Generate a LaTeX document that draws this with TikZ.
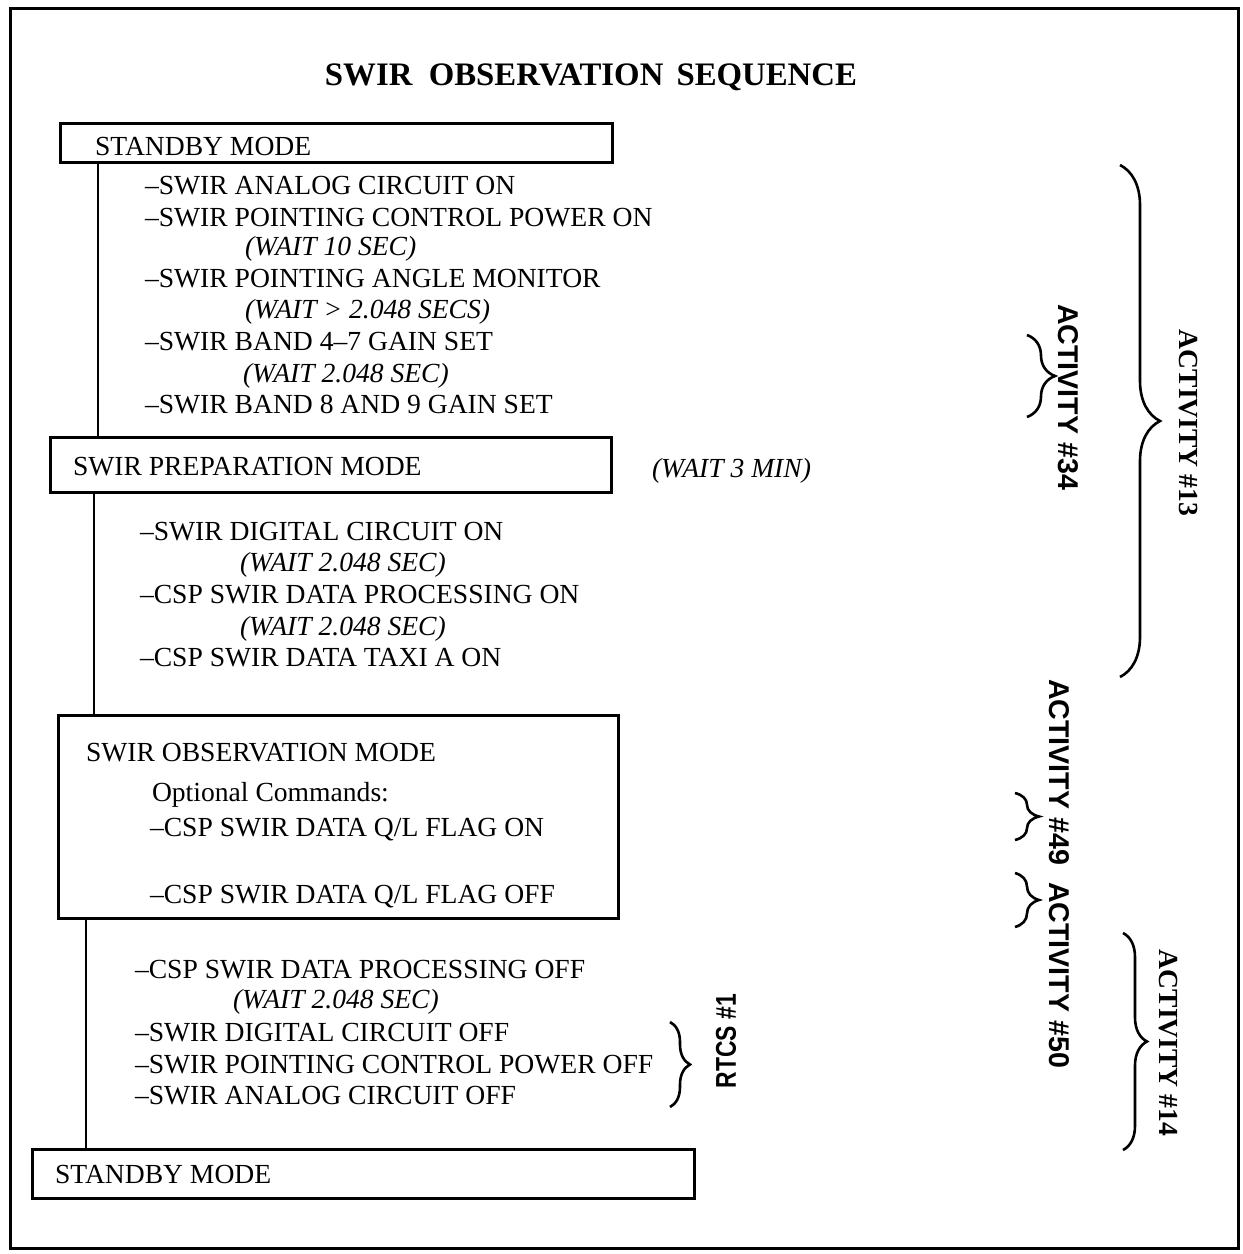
\documentclass[tikz,border=0pt]{standalone}
\usepackage{fontspec}
\usepackage{graphicx}
\setmainfont{Liberation Serif}
\newfontfamily\labelsans{Liberation Sans}
\usetikzlibrary{decorations.pathreplacing}

\begin{document}
\begin{tikzpicture}[x=0.5pt,y=-0.5pt,
  every node/.style={inner sep=0pt,outer sep=0pt},
  modebox/.style={draw,line width=1.5pt,rectangle},
  cmd/.style={anchor=base west,font=\fontsize{13.8}{16}\selectfont},
  waittxt/.style={anchor=base west,font=\fontsize{13.8}{16}\selectfont\itshape},
  link/.style={line width=1.3pt},
  curly/.style={line width=1.3pt,decorate,decoration={brace,amplitude=#1}},
  actsans/.style={font=\labelsans\fontsize{14.3}{16}\selectfont\bfseries},
  actserif/.style={font=\fontsize{13.8}{16}\selectfont\bfseries}]

\useasboundingbox (0,0) rectangle (1243,1254);
% outer frame
\draw[line width=1.5pt] (10,8) rectangle (1238,1248);

% title
\node[anchor=base,font=\fontsize{16.4}{18}\selectfont\bfseries] (title) at (591,85)
  {SWIR\hspace{0.5em}OBSERVATION\hspace{0.4em}SEQUENCE};

% mode boxes
\node[modebox,minimum width=276pt,minimum height=19.5pt] (b1) at (336,142.5) {};
\node[modebox,minimum width=280.5pt,minimum height=27.5pt] (b2) at (330.5,464.5) {};
\node[modebox,minimum width=280pt,minimum height=101.5pt] (b3) at (338,816.5) {};
\node[modebox,minimum width=331pt,minimum height=24.5pt] (b4) at (363,1173.5) {};

% vertical connectors between the modes
\coordinate (c1) at (98,0);
\coordinate (c2) at (94,0);
\coordinate (c3) at (86,0);
\draw[link] (b1.south -| c1) -- (b2.north -| c1);
\draw[link] (b2.south -| c2) -- (b3.north -| c2);
\draw[link] (b3.south -| c3) -- (b4.north -| c3);

% box titles
\node[cmd] (t1) at (95,155) {STANDBY MODE};
\node[cmd] (t2) at (73,475) {SWIR PREPARATION MODE};
\node[cmd] (t3) at (86,761) {SWIR OBSERVATION MODE};
\node[cmd] (t4) at (55,1183) {STANDBY MODE};

% standby -> preparation
\node[cmd] (s1) at (145,194) {--SWIR ANALOG CIRCUIT ON};
\node[cmd] (s2) at (145,226) {--SWIR POINTING CONTROL POWER ON};
\node[waittxt] (w1) at (245,255) {(WAIT 10 SEC)};
\node[cmd] (s3) at (145,287) {--SWIR POINTING ANGLE MONITOR};
\node[waittxt] (w2) at (245,318) {(WAIT > 2.048 SECS)};
\node[cmd] (s4) at (145,350) {--SWIR BAND 4--7 GAIN SET};
\node[waittxt] (w3) at (243,382) {(WAIT 2.048 SEC)};
\node[cmd] (s5) at (145,413) {--SWIR BAND 8 AND 9 GAIN SET};
\node[waittxt] (w4) at (652,477) {(WAIT 3 MIN)};

% preparation -> observation
\node[cmd] (p1) at (140,540) {--SWIR DIGITAL CIRCUIT ON};
\node[waittxt] (w5) at (240,571) {(WAIT 2.048 SEC)};
\node[cmd] (p2) at (140,603) {--CSP SWIR DATA PROCESSING ON};
\node[waittxt] (w6) at (240,635) {(WAIT 2.048 SEC)};
\node[cmd] (p3) at (140,666) {--CSP SWIR DATA TAXI A ON};

% observation mode contents
\node[cmd] (o1) at (152,801) {Optional Commands:};
\node[cmd] (o2) at (150,836) {--CSP SWIR DATA Q/L FLAG ON};
\node[cmd] (o3) at (150,903) {--CSP SWIR DATA Q/L FLAG OFF};

% observation -> standby
\node[cmd] (e1) at (135,978) {--CSP SWIR DATA PROCESSING OFF};
\node[waittxt] (w7) at (233,1008) {(WAIT 2.048 SEC)};
\node[cmd] (e2) at (135,1041) {--SWIR DIGITAL CIRCUIT OFF};
\node[cmd] (e3) at (135,1073) {--SWIR POINTING CONTROL POWER OFF};
\node[cmd] (e4) at (135,1104) {--SWIR ANALOG CIRCUIT OFF};

% braces
\coordinate (r13a) at (1120,165);  \coordinate (r13b) at (1120,677);
\coordinate (r34a) at (1027,335);  \coordinate (r34b) at (1027,417);
\coordinate (r49a) at (1015,793);  \coordinate (r49b) at (1015,840);
\coordinate (r50a) at (1015,873);  \coordinate (r50b) at (1015,927);
\coordinate (r14a) at (1123,933);  \coordinate (r14b) at (1123,1150);
\coordinate (rtca) at (670,1022);  \coordinate (rtcb) at (670,1107);
\draw[curly=20pt] (r13a) -- (r13b);
\draw[curly=14pt] (r34a) -- (r34b);
\draw[curly=12pt] (r49a) -- (r49b);
\draw[curly=12pt] (r50a) -- (r50b);
\draw[curly=12pt] (r14a) -- (r14b);
\draw[curly=10pt] (rtca) -- (rtcb);

% brace labels
\node[actserif,rotate=-90] (a13) at (1188,423) {ACTIVITY \#13};
\node[actserif,rotate=-90] (a14) at (1168,1043) {ACTIVITY \#14};
\node[actsans,rotate=-90] (a34) at (1068,397) {ACTIVITY \#34};
\node[actsans,rotate=-90] (a49) at (1059,772) {ACTIVITY \#49};
\node[actsans,rotate=-90] (a50) at (1059,975) {ACTIVITY \#50};
\node[actsans,rotate=90] (rt) at (726,1041) {\scalebox{0.8}[1]{RTCS \#1}};
\end{tikzpicture}
\end{document}
